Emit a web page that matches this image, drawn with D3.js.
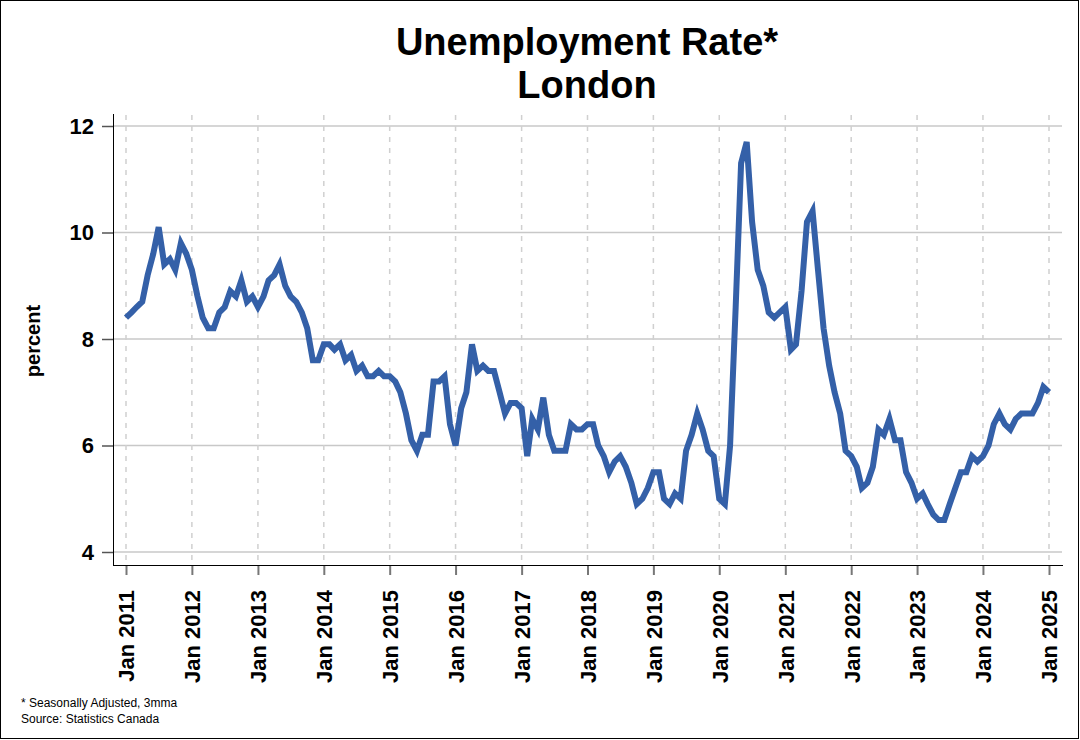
<!DOCTYPE html>
<meta charset="utf-8">
<style>
body { margin: 0; background: #fff; }
text { font-family: "Liberation Sans", Arial, sans-serif; }
.title { font-size: 38px; font-weight: bold; }
.tick text { font-size: 22px; font-weight: bold; fill: #000; }
.ylabel { font-size: 20px; font-weight: bold; }
.note { font-size: 12px; }
</style>
<svg width="1080" height="740"></svg>
<script src="https://cdn.jsdelivr.net/npm/d3@7"></script>
<script>

// monthly unemployment rate, Jan 2011 .. Jan 2025
var startYear = 2011;
var rate = [
  8.4, 8.5, 8.6, 8.7, 9.2, 9.6, 10.1, 9.4, 9.5, 9.3, 9.8, 9.6,   // 2011
  9.3, 8.8, 8.4, 8.2, 8.2, 8.5, 8.6, 8.9, 8.8, 9.1, 8.7, 8.8,    // 2012
  8.6, 8.8, 9.1, 9.2, 9.4, 9.0, 8.8, 8.7, 8.5, 8.2, 7.6, 7.6,    // 2013
  7.9, 7.9, 7.8, 7.9, 7.6, 7.7, 7.4, 7.5, 7.3, 7.3, 7.4, 7.3,    // 2014
  7.3, 7.2, 7.0, 6.6, 6.1, 5.9, 6.2, 6.2, 7.2, 7.2, 7.3, 6.4,    // 2015
  6.0, 6.7, 7.0, 7.9, 7.4, 7.5, 7.4, 7.4, 7.0, 6.6, 6.8, 6.8,    // 2016
  6.7, 5.8, 6.5, 6.3, 6.9, 6.2, 5.9, 5.9, 5.9, 6.4, 6.3, 6.3,    // 2017
  6.4, 6.4, 6.0, 5.8, 5.5, 5.7, 5.8, 5.6, 5.3, 4.9, 5.0, 5.2,    // 2018
  5.5, 5.5, 5.0, 4.9, 5.1, 5.0, 5.9, 6.2, 6.6, 6.3, 5.9, 5.8,    // 2019
  5.0, 4.9, 6.0, 8.6, 11.3, 11.7, 10.2, 9.3, 9.0, 8.5, 8.4, 8.5, // 2020
  8.6, 7.8, 7.9, 8.9, 10.2, 10.4, 9.3, 8.2, 7.5, 7.0, 6.6, 5.9,  // 2021
  5.8, 5.6, 5.2, 5.3, 5.6, 6.3, 6.2, 6.5, 6.1, 6.1, 5.5, 5.3,    // 2022
  5.0, 5.1, 4.9, 4.7, 4.6, 4.6, 4.9, 5.2, 5.5, 5.5, 5.8, 5.7,    // 2023
  5.8, 6.0, 6.4, 6.6, 6.4, 6.3, 6.5, 6.6, 6.6, 6.6, 6.8, 7.1,    // 2024
  7.0                                                            // 2025
];
var yTicks = [4, 6, 8, 10, 12];
var xTickYears = d3.range(2011, 2026);

var data = rate.map(function(v, i) {
  return { date: new Date(startYear, i, 1), value: v };
});

var svg = d3.select("svg");

// outer frame
svg.append("rect")
    .attr("x", 0.5).attr("y", 0.5)
    .attr("width", 1078).attr("height", 738)
    .attr("fill", "none").attr("stroke", "#000");

var x = d3.scaleTime()
    .domain([new Date(2011, 0, 1), new Date(2025, 0, 1)])
    .range([126, 1049]);

var y = d3.scaleLinear()
    .domain([4, 12])
    .range([552, 126]);

var plotLeft = 113, plotRight = 1062, plotTop = 115, plotBottom = 565;

// horizontal grid
svg.append("g")
  .selectAll("line")
  .data(yTicks)
  .enter().append("line")
    .attr("x1", plotLeft).attr("x2", plotRight)
    .attr("y1", function(d) { return y(d); })
    .attr("y2", function(d) { return y(d); })
    .attr("stroke", "#c8c8c8")
    .attr("stroke-width", 1.5);

// vertical dashed grid
svg.append("g")
  .selectAll("line")
  .data(xTickYears)
  .enter().append("line")
    .attr("x1", function(d) { return x(new Date(d, 0, 1)); })
    .attr("x2", function(d) { return x(new Date(d, 0, 1)); })
    .attr("y1", plotTop).attr("y2", plotBottom)
    .attr("stroke", "#d0d0d0")
    .attr("stroke-width", 1.5)
    .attr("stroke-dasharray", "5,6");

// y axis
var yAxis = svg.append("g")
    .attr("transform", "translate(" + plotLeft + ",0)")
    .call(d3.axisLeft(y).tickValues(yTicks).tickSize(11).tickPadding(8));
yAxis.select(".domain").remove();
yAxis.selectAll(".tick line").attr("stroke", "#555").attr("stroke-width", 1.5);

svg.append("line")
    .attr("x1", plotLeft + 0.5).attr("x2", plotLeft + 0.5)
    .attr("y1", plotTop - 1).attr("y2", plotBottom)
    .attr("stroke", "#000");

// x axis
var xAxis = svg.append("g")
    .attr("transform", "translate(0," + plotBottom + ")")
    .call(d3.axisBottom(x)
      .tickValues(xTickYears.map(function(d) { return new Date(d, 0, 1); }))
      .tickFormat(d3.timeFormat("Jan %Y"))
      .tickSize(10));
xAxis.select(".domain").remove();
xAxis.selectAll(".tick line").attr("stroke", "#777").attr("stroke-width", 2);
xAxis.selectAll(".tick text")
    .attr("transform", "rotate(-90)")
    .attr("text-anchor", "end")
    .attr("x", -25)
    .attr("y", 0)
    .attr("dy", "0.36em");

svg.append("line")
    .attr("x1", plotLeft).attr("x2", plotRight + 1)
    .attr("y1", plotBottom + 0.5).attr("y2", plotBottom + 0.5)
    .attr("stroke", "#000");

// the series
var line = d3.line()
    .x(function(d) { return x(d.date); })
    .y(function(d) { return y(d.value); });

svg.append("path")
    .datum(data)
    .attr("d", line)
    .attr("fill", "none")
    .attr("stroke", "#3460a8")
    .attr("stroke-width", 6)
    .attr("stroke-linejoin", "miter");

// titles
svg.append("text")
    .attr("class", "title")
    .attr("x", 587).attr("y", 55)
    .attr("text-anchor", "middle")
    .text("Unemployment Rate*");
svg.append("text")
    .attr("class", "title")
    .attr("x", 587).attr("y", 98)
    .attr("text-anchor", "middle")
    .text("London");

svg.append("text")
    .attr("class", "ylabel")
    .attr("transform", "translate(40,341) rotate(-90)")
    .attr("text-anchor", "middle")
    .text("percent");

svg.append("text")
    .attr("class", "note")
    .attr("x", 21).attr("y", 707)
    .text("* Seasonally Adjusted, 3mma");
svg.append("text")
    .attr("class", "note")
    .attr("x", 21).attr("y", 723)
    .text("Source: Statistics Canada");

</script>
